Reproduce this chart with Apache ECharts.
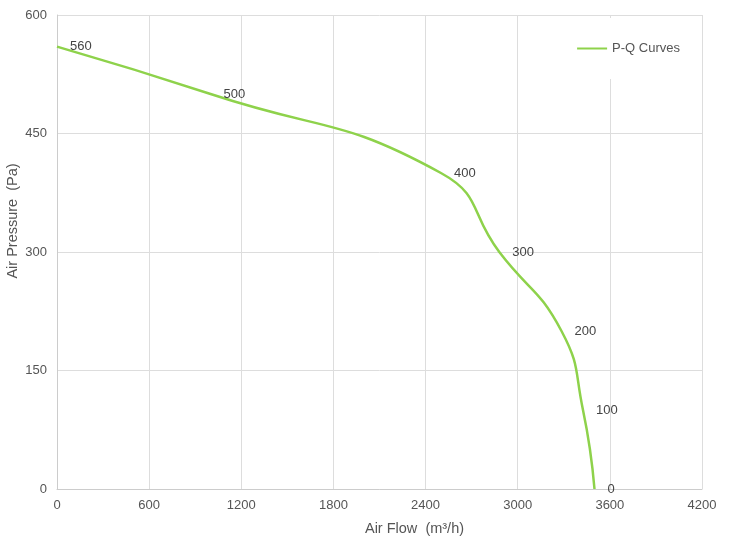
<!DOCTYPE html>
<html>
<head>
<meta charset="utf-8">
<script src="https://cdn.jsdelivr.net/npm/echarts@6/dist/echarts.min.js"></script>
<style>
    html, body { margin: 0; padding: 0; background: #fff; }
    #main { width: 732px; height: 545px; }
</style>
</head>
<body>
<div id="main"></div>
<script>
    // 风量 / 风压 数据 (m³/h, Pa)
    var flow = [0, 1000, 2500, 2880, 3285, 3425, 3500];
    var pressure = [560, 500, 400, 300, 200, 100, 0];
    var xTicks = [0, 600, 1200, 1800, 2400, 3000, 3600, 4200];
    var yTicks = [0, 150, 300, 450, 600];

    var points = [];
    for (var i = 0; i < flow.length; i++) {
        points.push([flow[i], pressure[i]]);
    }

    var lineColor = '#8ed24b';
    var textColor = '#555';
    var font = 'Liberation Sans, Arial, sans-serif';

    var myChart = echarts.init(document.getElementById('main'));
    var option = {
        animation: false,
        textStyle: { fontFamily: font },
        grid: {
            left: 57,
            right: 30,
            top: 15,
            bottom: 56,
            outerBoundsMode: 'none'
        },
        legend: {
            data: ['P-Q Curves'],
            right: 42,
            top: 18,
            icon: 'rect',
            itemWidth: 30,
            itemHeight: 2,
            itemGap: 5,
            padding: [24, 10, 24, 12],
            backgroundColor: '#fff',
            itemStyle: { color: lineColor, opacity: 1 },
            textStyle: { color: textColor, fontSize: 13, fontFamily: font }
        },
        xAxis: {
            type: 'value',
            min: xTicks[0],
            max: xTicks[xTicks.length - 1],
            interval: 600,
            name: 'Air Flow  (m³/h)',
            nameLocation: 'middle',
            nameGap: 32,
            nameMoveOverlap: false,
            nameTextStyle: { color: textColor, fontSize: 14.5, padding: [0, 0, 0, 70] },
            axisLine: { lineStyle: { color: '#ccc' } },
            axisTick: { show: false },
            axisLabel: {
                color: textColor, fontSize: 13, margin: 10,
                formatter: function (v) { return String(v); }
            },
            splitLine: { lineStyle: { color: '#ddd' } }
        },
        yAxis: {
            type: 'value',
            min: yTicks[0],
            max: yTicks[yTicks.length - 1],
            interval: 150,
            name: 'Air Pressure  (Pa)',
            nameLocation: 'middle',
            nameGap: 37,
            nameMoveOverlap: false,
            nameTextStyle: { color: textColor, fontSize: 14.5, padding: [0, 0, 0, 62] },
            axisLine: { show: true, lineStyle: { color: '#ccc' } },
            axisTick: { show: false },
            axisLabel: { color: textColor, fontSize: 13, margin: 10 },
            splitLine: { lineStyle: { color: '#ddd' } }
        },
        series: [{
            name: 'P-Q Curves',
            type: 'line',
            smooth: 0.5,
            data: points,
            symbol: 'circle',
            symbolSize: 4,
            showSymbol: true,
            itemStyle: { color: 'rgba(0,0,0,0)', borderWidth: 0 },
            lineStyle: { color: lineColor, width: 2.5 },
            label: {
                show: true,
                position: 'right',
                distance: 11,
                color: '#444',
                fontSize: 13,
                formatter: function (p) { return p.value[1]; }
            }
        }]
    };
    myChart.setOption(option);
</script>
</body>
</html>
